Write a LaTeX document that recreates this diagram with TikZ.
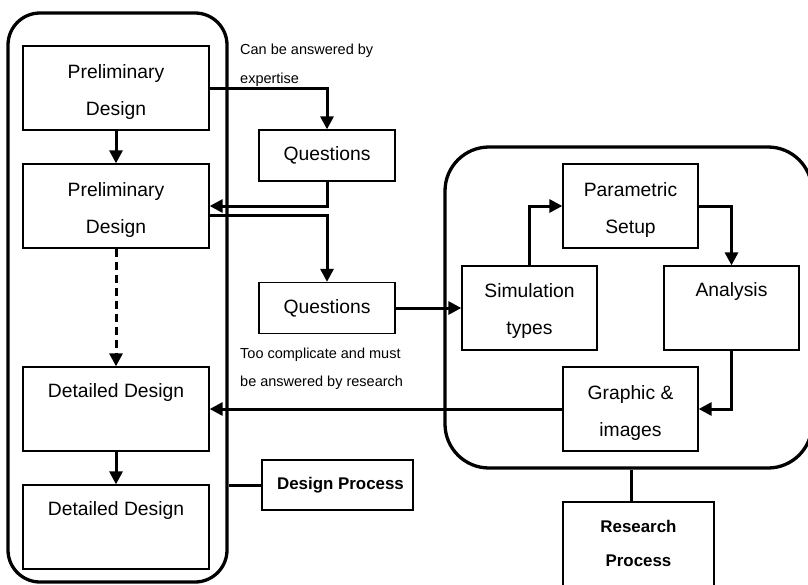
\documentclass[tikz,border=0pt]{standalone}
\usepackage{fontspec}
\setmainfont{Liberation Sans}
\usetikzlibrary{arrows.meta}
\begin{document}
\begin{tikzpicture}[x=1pt,y=-1pt,
  box/.style={draw, line width=1.3pt, minimum width=186pt, minimum height=84pt, inner sep=0pt},
  qbox/.style={draw, line width=1.3pt, minimum width=136pt, minimum height=51pt, inner sep=0pt, font=\fontsize{19.3}{37}\selectfont},
  rbox/.style={draw, line width=1.3pt, minimum width=135pt, minimum height=84pt, inner sep=0pt},
  txt/.style={font=\fontsize{19.3}{37}\selectfont, align=center, inner sep=0pt},
  bold/.style={font=\fontsize{16.9}{34}\selectfont\bfseries, align=center, inner sep=0pt},
  note/.style={font=\fontsize{14.5}{28.5}\selectfont, align=left, inner sep=0pt, anchor=west},
  container/.style={draw, line width=3.3pt, rounded corners=32pt, inner sep=0pt},
  arr/.style={line width=3pt, -{Triangle[length=13pt,width=13pt]}},
  link/.style={line width=3pt}
]
\useasboundingbox (0,0) rectangle (808,584);
% containers
\node[container, minimum width=219pt, minimum height=569pt] (dc) at (117.5,297.5) {};
\node[container, rounded corners=44pt, minimum width=367pt, minimum height=321pt] (rc) at (628.5,307.5) {};
% design boxes
\node[box, label={[txt, name=pd1t, yshift=-4.5pt]center:{Preliminary\\Design}}] (pd1) at (116,88) {};
\node[box, label={[txt, name=pd2t, yshift=-4.5pt]center:{Preliminary\\Design}}] (pd2) at (116,206) {};
\node[box, label={[txt, name=dd1t, yshift=16pt]center:{Detailed Design}}] (dd1) at (116,409) {};
\node[box, label={[txt, name=dd2t, yshift=16pt]center:{Detailed Design}}] (dd2) at (116,527) {};
% questions
\node[qbox] (q1) at (327,155.5) {Questions};
\node[qbox] (q2) at (327,308) {Questions};
% research boxes
\node[rbox, label={[txt, name=pst, yshift=-4pt]center:{Parametric\\Setup}}] (ps) at (630.5,206) {};
\node[rbox, label={[txt, name=simt, yshift=-3pt]center:{Simulation\\types}}] (sim) at (529.5,308) {};
\node[rbox, label={[txt, name=anat, yshift=16pt]center:{Analysis}}] (ana) at (731.5,308) {};
\node[rbox, label={[txt, name=git, yshift=-4pt]center:{Graphic \&\\images}}] (gi) at (630.5,409) {};
% process labels
\node[draw, line width=1.3pt, minimum width=151pt, minimum height=50pt, inner sep=0pt] (dp) at (337.5,485) {};
\node[bold, name=dpt] at (340.5,485) {Design Process};
\node[draw, line width=1.3pt, minimum width=151pt, minimum height=110pt, inner sep=0pt, label={[bold, name=rpt, yshift=14pt]center:{Research\\Process}}] (rp) at (638.5,557) {};
% notes
\node[note] (n1) at (240,65) {Can be answered by\\expertise};
\node[note] (n2) at (240,368.5) {Too complicate and must\\be answered by research};
% connectors
\draw[arr] (pd1.south) -- (pd2.north);
\draw[arr] (pd1.east) -| (q1.north);
\draw[arr] (q1.south) |- (pd2.east);
\draw[arr] ([yshift=-9pt]pd2.east) -| (q2.north);
\draw[arr] (q2.east) -- (sim.west);
\draw[arr, dash pattern=on 8pt off 5pt] (pd2.south) -- (dd1.north);
\draw[arr] (dd1.south) -- (dd2.north);
\draw[arr] (sim.north) |- (ps.west);
\draw[arr] (ps.east) -| (ana.north);
\draw[arr] (ana.south) |- (gi.east);
\draw[arr] (gi.west) -- (dd1.east);
\draw[link] (dp.west) -- (dp.west -| dc.east);
\draw[link] ([xshift=-7.5pt]rp.north) -- ([xshift=-7.5pt]rp.north |- rc.south);
\end{tikzpicture}
\end{document}
